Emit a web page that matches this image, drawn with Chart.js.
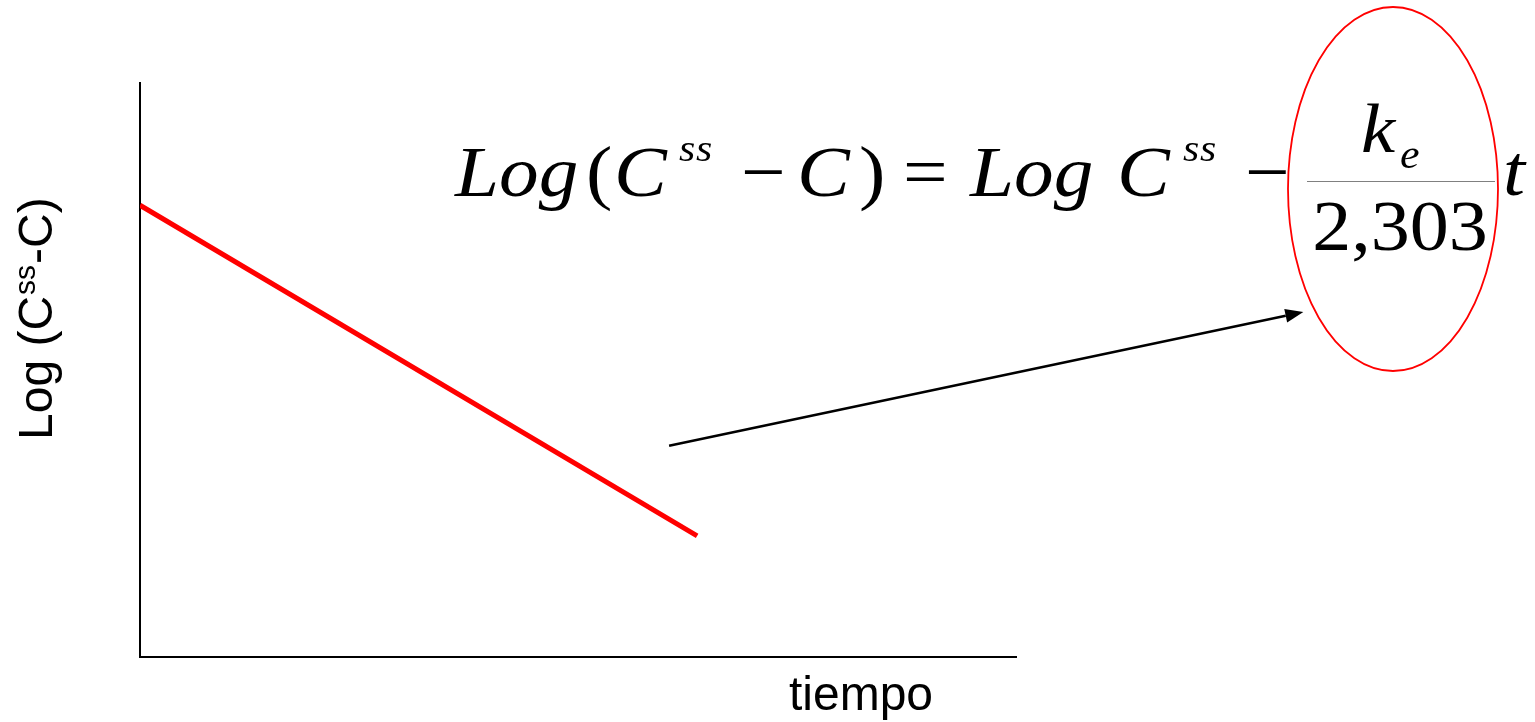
<!DOCTYPE html>
<html>
<head>
<meta charset="utf-8">
<script src="https://cdn.jsdelivr.net/npm/chart.js@4"></script>
<style>
  html, body { margin: 0; padding: 0; background: #fff; }
  #wrap { width: 1535px; height: 722px; position: relative; }
</style>
</head>
<body>
<div id="wrap"><canvas id="decay-chart"></canvas></div>
<script>
// straight-line decay of log(Css - C) against time
var TIME = [0, 6.36];
var LOG_DIFF = [7.87, 2.11];
var X_RANGE = [0, 10];
var Y_RANGE = [0, 10];

// arrow pointing from the line towards the slope term (data units)
var ARROW_FROM = [6.04, 3.68];
var ARROW_TO = [13.28, 6.01];

var SERIF = '"Liberation Serif", "Times New Roman", serif';
var SANS = '"Liberation Sans", Arial, sans-serif';
var STRETCH = 1.1;

// equation pieces: text, x, baseline, size, italic
var EQUATION = [
  ['Log', 455, 196, 72, true],
  ['(', 586, 196, 72, false],
  ['C', 614, 196, 72, true],
  ['s', 679, 161, 38, true],
  ['s', 696, 161, 38, true],
  ['\u2212', 741, 196, 72, false],
  ['C', 797, 196, 72, true],
  [')', 859, 196, 72, false],
  ['=', 903, 196, 72, false],
  ['Log', 970, 196, 72, true],
  ['C', 1117, 196, 72, true],
  ['s', 1183, 161, 38, true],
  ['s', 1200, 161, 38, true],
  ['\u2212', 1245, 196, 72, false],
  ['k', 1361, 152, 70, true],
  ['e', 1400, 168, 40, true],
  ['t', 1503, 195, 72, true],
];

function drawGlyph(ctx, s, x, y, size, italic, align) {
  ctx.save();
  ctx.translate(x, y);
  ctx.scale(STRETCH, 1);
  ctx.font = (italic ? 'italic ' : '') + size + 'px ' + SERIF;
  ctx.textAlign = align || 'left';
  ctx.textBaseline = 'alphabetic';
  ctx.fillText(s, 0, 0);
  ctx.restore();
}

var annotations = {
  id: 'annotations',
  afterDraw: function (chart) {
    var ctx = chart.ctx;
    var xs = chart.scales.x, ys = chart.scales.y;
    ctx.save();
    ctx.fillStyle = '#000';

    // axis titles
    ctx.save();
    ctx.translate(52, 440);
    ctx.rotate(-Math.PI / 2);
    ctx.textAlign = 'left';
    ctx.textBaseline = 'alphabetic';
    ctx.font = '48px ' + SANS;
    var w1 = ctx.measureText('Log (C').width;
    ctx.fillText('Log (C', 0, 0);
    ctx.font = '30px ' + SANS;
    var w2 = ctx.measureText('ss').width;
    ctx.fillText('ss', w1 + 1, -17);
    ctx.font = '48px ' + SANS;
    ctx.fillText('-C)', w1 + w2 + 2, 0);
    ctx.restore();

    ctx.font = '48px ' + SANS;
    ctx.textAlign = 'center';
    ctx.fillText('tiempo', 861, 710);

    // equation
    EQUATION.forEach(function (p) {
      drawGlyph(ctx, p[0], p[1], p[2], p[3], p[4]);
    });
    drawGlyph(ctx, '2,303', 1400, 250, 71, false, 'center');
    ctx.strokeStyle = '#808080';
    ctx.lineWidth = 1;
    ctx.beginPath();
    ctx.moveTo(1307, 181.5);
    ctx.lineTo(1495, 181.5);
    ctx.stroke();

    // arrow
    var x1 = xs.getPixelForValue(ARROW_FROM[0]), y1 = ys.getPixelForValue(ARROW_FROM[1]);
    var x2 = xs.getPixelForValue(ARROW_TO[0]), y2 = ys.getPixelForValue(ARROW_TO[1]);
    var ang = Math.atan2(y2 - y1, x2 - x1);
    var head = 18, half = 7;
    var bx = x2 - head * Math.cos(ang), by = y2 - head * Math.sin(ang);
    ctx.strokeStyle = '#000';
    ctx.lineWidth = 2.5;
    ctx.beginPath();
    ctx.moveTo(x1, y1);
    ctx.lineTo(bx, by);
    ctx.stroke();
    ctx.beginPath();
    ctx.moveTo(x2, y2);
    ctx.lineTo(bx + half * Math.sin(ang), by - half * Math.cos(ang));
    ctx.lineTo(bx - half * Math.sin(ang), by + half * Math.cos(ang));
    ctx.closePath();
    ctx.fill();

    // red ellipse round the slope factor
    ctx.strokeStyle = '#ff0000';
    ctx.lineWidth = 1.8;
    ctx.beginPath();
    ctx.ellipse(1393, 189, 105, 182, 0, 0, Math.PI * 2);
    ctx.stroke();
    ctx.restore();
  }
};

var ctx = document.getElementById('decay-chart').getContext('2d');
var decayChart = new Chart(ctx, {
  type: 'line',
  data: {
    datasets: [{
      data: TIME.map(function (t, i) { return { x: t, y: LOG_DIFF[i] }; }),
      borderColor: '#ff0000',
      borderWidth: 5,
      pointRadius: 0,
      tension: 0,
    }],
  },
  options: {
    responsive: true,
    maintainAspectRatio: false,
    animation: false,
    layout: { padding: { left: 132, right: 519, top: 83, bottom: 57 } },
    scales: {
      x: {
        type: 'linear', min: X_RANGE[0], max: X_RANGE[1],
        ticks: { display: false },
        grid: { display: false },
        border: { display: true, color: '#000', width: 2 },
      },
      y: {
        min: Y_RANGE[0], max: Y_RANGE[1],
        ticks: { display: false },
        grid: { display: false },
        border: { display: true, color: '#000', width: 2 },
      },
    },
    plugins: {
      legend: { display: false },
      tooltip: { enabled: false },
    },
  },
  plugins: [annotations],
});
</script>
</body>
</html>
